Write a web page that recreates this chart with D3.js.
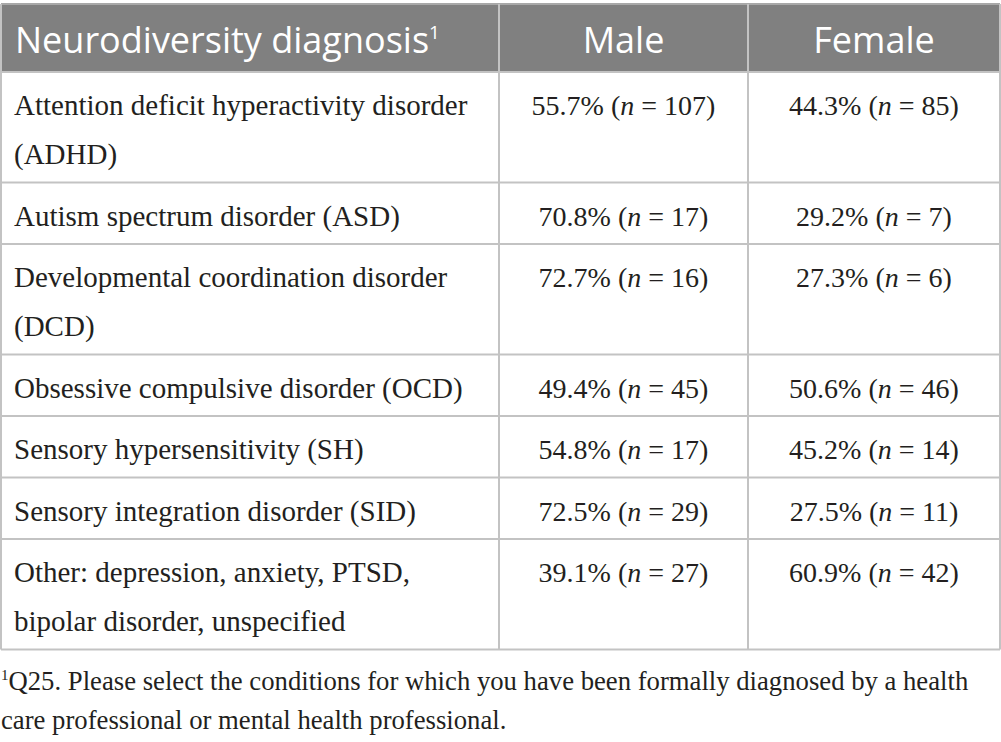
<!DOCTYPE html>
<html lang="en">
<head>
<meta charset="utf-8">
<title>Neurodiversity diagnosis by gender</title>
<script src="https://d3js.org/d3.v7.min.js"></script>
<style>
 body { margin: 0; background: #fff; }
 svg { display: block; }
</style>
</head>
<body>
<script>
// Table contents
const headers = ['Neurodiversity diagnosis', 'Male', 'Female'];
const diagnoses = [
    ['Attention deficit hyperactivity disorder', '(ADHD)'],
    ['Autism spectrum disorder (ASD)'],
    ['Developmental coordination disorder', '(DCD)'],
    ['Obsessive compulsive disorder (OCD)'],
    ['Sensory hypersensitivity (SH)'],
    ['Sensory integration disorder (SID)'],
    ['Other: depression, anxiety, PTSD,', 'bipolar disorder, unspecified']
];
const malePct = ['55.7', '70.8', '72.7', '49.4', '54.8', '72.5', '39.1'];
const maleN = [107, 17, 16, 45, 17, 29, 27];
const femalePct = ['44.3', '29.2', '27.3', '50.6', '45.2', '27.5', '60.9'];
const femaleN = [85, 7, 6, 46, 14, 11, 42];
const footnote = ['Q25. Please select the conditions for which you have been formally diagnosed by a health',
                  'care professional or mental health professional.'];

//Display specs
const W = 1001, H = 742;
const colEdges = [1, 499, 748, 1000];
const tableTop = 4, headH = 68, lineH = 49, rowPad = 12.5;
const serif = '"Liberation Serif", "Times New Roman", serif';
const sans = '"Open Sans", "Noto Sans", sans-serif';
const grid = '#c3c3c3';
const ink = '#231f20';

const rows = diagnoses.map((d, i) => ({
    label: d,
    cells: [[malePct[i], maleN[i]], [femalePct[i], femaleN[i]]],
    h: rowPad + lineH * d.length
}));
const ends = d3.cumsum(rows, d => d.h);
rows.forEach((r, i) => { r.y = tableTop + headH + ends[i] - r.h; });
const tableBottom = tableTop + headH + ends[ends.length - 1];

const svg = d3.select('body').append('svg')
              .attr('width', W)
              .attr('height', H);

//Header band
svg.append('rect')
   .attr('x', colEdges[0])
   .attr('y', tableTop)
   .attr('width', colEdges[3] - colEdges[0])
   .attr('height', headH)
   .style('fill', '#808080');

const head = svg.selectAll('.head')
                .data(headers)
                .enter()
                .append('text')
                .attr('class', 'head')
                .attr('x', (d, i) => i === 0 ? colEdges[0] + 14 : (colEdges[i] + colEdges[i + 1]) / 2)
                .attr('y', tableTop + 49)
                .attr('text-anchor', (d, i) => i === 0 ? 'start' : 'middle')
                .style('font-family', sans)
                .style('font-size', '36px')
                .style('fill', '#fff')
                .text(d => d);
head.filter((d, i) => i === 0)
    .append('tspan')
    .attr('dy', -14)
    .style('font-size', '19px')
    .text('1');

//Diagnosis labels
const labels = svg.selectAll('.label')
                  .data(rows)
                  .enter()
                  .append('text')
                  .attr('class', 'label')
                  .style('font-family', serif)
                  .style('font-size', '29px')
                  .style('fill', ink);
labels.selectAll('tspan')
      .data(d => d.label.map((t, j) => ({t: t, y: d.y + 43 + j * lineH})))
      .enter()
      .append('tspan')
      .attr('x', colEdges[0] + 13)
      .attr('y', d => d.y)
      .text(d => d.t);

//Percent cells
rows.forEach(r => {
    r.cells.forEach((c, k) => {
        const t = svg.append('text')
                     .attr('x', (colEdges[k + 1] + colEdges[k + 2]) / 2)
                     .attr('y', r.y + 43)
                     .attr('text-anchor', 'middle')
                     .style('font-family', serif)
                     .style('font-size', '28px')
                     .style('fill', ink);
        t.append('tspan').text(c[0] + '% (');
        t.append('tspan').style('font-style', 'italic').text('n');
        t.append('tspan').text(' = ' + c[1] + ')');
    });
});

//Grid lines
const hLines = [tableTop, tableTop + headH].concat(rows.map(r => r.y + r.h));
svg.selectAll('.hline')
   .data(hLines)
   .enter()
   .append('line')
   .attr('x1', colEdges[0])
   .attr('x2', colEdges[3])
   .attr('y1', d => d)
   .attr('y2', d => d)
   .style('stroke', (d, i) => i === 0 ? '#a8a8a8' : grid)
   .style('stroke-width', 2);
svg.selectAll('.vline')
   .data(colEdges)
   .enter()
   .append('line')
   .attr('x1', d => d)
   .attr('x2', d => d)
   .attr('y1', tableTop)
   .attr('y2', tableBottom)
   .style('stroke', grid)
   .style('stroke-width', 2);

//Footnote
const note = svg.selectAll('.note')
                .data(footnote)
                .enter()
                .append('text')
                .attr('class', 'note')
                .attr('x', 1)
                .attr('y', (d, i) => 690 + i * 39)
                .style('font-family', serif)
                .style('font-size', '26.7px')
                .style('fill', ink);
note.filter((d, i) => i === 0)
    .append('tspan')
    .attr('dy', -10)
    .style('font-size', '15px')
    .text('1');
note.append('tspan')
    .attr('dy', (d, i) => i === 0 ? 10 : 0)
    .text(d => d);
</script>
</body>
</html>
